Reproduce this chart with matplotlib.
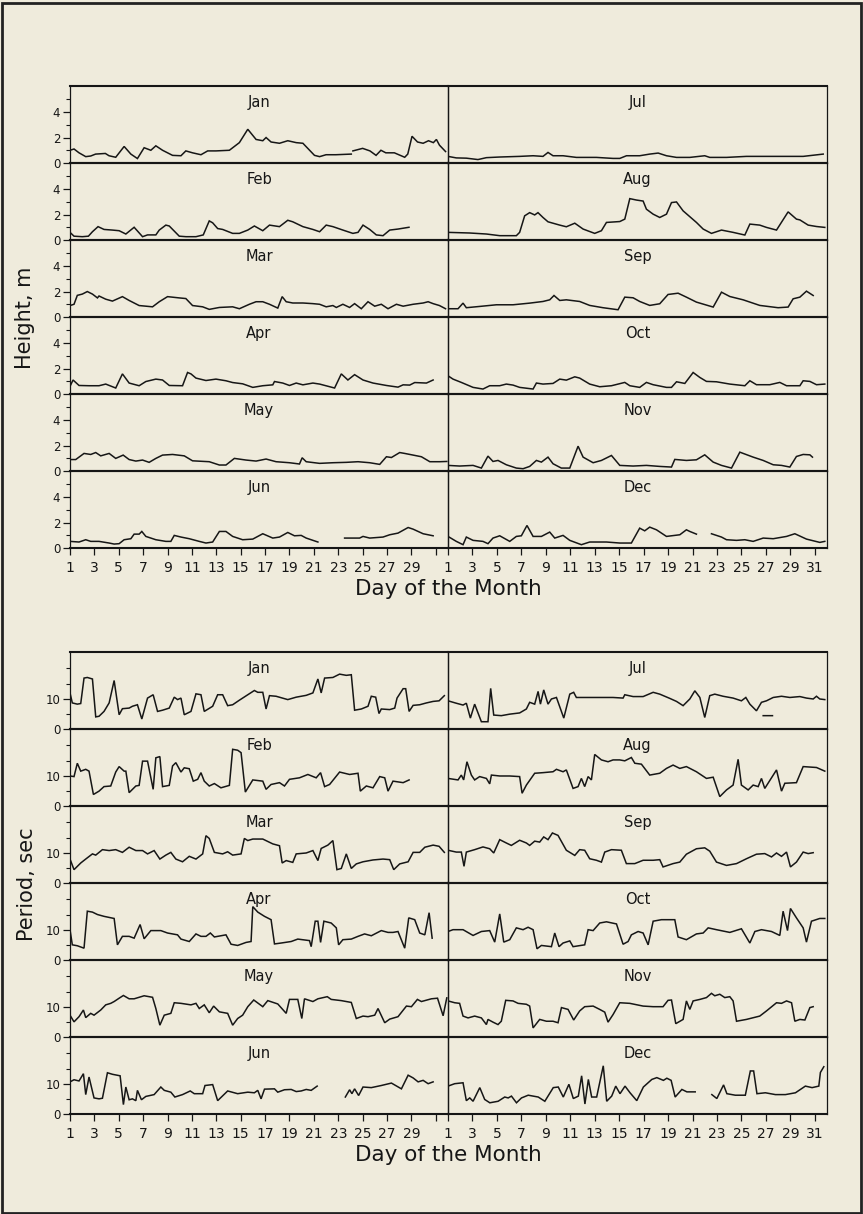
import numpy as np
import matplotlib.pyplot as plt
from matplotlib.patches import Rectangle

nan = np.nan

MONTHS = ["Jan", "Feb", "Mar", "Apr", "May", "Jun",
          "Jul", "Aug", "Sep", "Oct", "Nov", "Dec"]

# ---- wave height (m), (day, value) ----
H_JAN = [(1, 1.0), (1.33, 1.1), (1.74, 0.8), (2.29, 0.5), (2.7, 0.55), (3.1, 0.7), (3.9, 0.75), (4.2, 0.57),
         (4.75, 0.45), (5.44, 1.3), (5.99, 0.7), (6.53, 0.35), (7.08, 1.2), (7.63, 1.0), (8.04, 1.35), (8.59, 1.0),
         (9.41, 0.6), (10.1, 0.57), (10.5, 0.95), (11.05, 0.8), (11.74, 0.65), (12.29, 0.95), (12.97, 0.95),
         (14.07, 1.0), (14.89, 1.6), (15.58, 2.65), (16.26, 1.85), (16.81, 1.75), (17.08, 2.0), (17.49, 1.65),
         (18.18, 1.55), (18.86, 1.75), (19.55, 1.6), (20.1, 1.55), (21.05, 0.6), (21.47, 0.5), (22.0, 0.65),
         (22.8, 0.65), (24.07, 0.7), (24.13, nan), (24.2, 0.95), (25.0, 1.15), (25.6, 0.95), (26.1, 0.6),
         (26.5, 1.0), (26.9, 0.8), (27.6, 0.8), (28.45, 0.45), (28.7, 0.7), (29.05, 2.1), (29.5, 1.65),
         (29.96, 1.55), (30.4, 1.75), (30.8, 1.6), (31.05, 1.85), (31.3, 1.4), (31.8, 0.9)]
H_FEB = [(1, 0.6), (1.33, 0.3), (2.01, 0.26), (2.51, 0.3), (2.84, 0.65), (3.3, 1.05), (3.79, 0.83), (4.48, 0.78),
         (5.03, 0.73), (5.58, 0.47), (6.26, 1.0), (6.95, 0.26), (7.36, 0.4), (8.04, 0.4), (8.32, 0.78), (8.86, 1.17),
         (9.14, 1.1), (9.96, 0.3), (10.51, 0.26), (11.33, 0.26), (11.93, 0.4), (12.42, 1.5), (12.7, 1.35),
         (13.11, 0.9), (13.52, 0.83), (14.34, 0.52), (14.89, 0.52), (15.58, 0.78), (16.12, 1.1), (16.81, 0.73),
         (17.36, 1.17), (18.18, 1.05), (18.86, 1.55), (19.27, 1.43), (20.1, 1.05), (20.92, 0.83), (21.47, 0.65),
         (22.01, 1.17), (22.56, 1.05), (23.38, 0.78), (24.2, 0.52), (24.62, 0.6), (25.03, 1.17), (25.58, 0.83),
         (26.12, 0.4), (26.67, 0.34), (27.22, 0.78), (27.9, 0.86), (28.8, 1.0)]
H_MAR = [(1, 0.9), (1.33, 1.0), (1.6, 1.7), (2.01, 1.8), (2.42, 2.0), (2.84, 1.8), (3.25, 1.5), (3.38, 1.65),
         (3.93, 1.4), (4.48, 1.25), (5.3, 1.6), (5.85, 1.3), (6.67, 0.9), (7.77, 0.8), (8.32, 1.2), (9.0, 1.6),
         (9.96, 1.5), (10.5, 1.45), (11.05, 0.9), (11.88, 0.8), (12.42, 0.6), (13.25, 0.75), (14.34, 0.8),
         (14.89, 0.65), (15.71, 1.0), (16.26, 1.2), (16.81, 1.2), (17.36, 1.0), (18.04, 0.7), (18.4, 1.6),
         (18.73, 1.2), (19.27, 1.1), (20.1, 1.1), (20.92, 1.05), (21.47, 1.0), (22.01, 0.8), (22.56, 0.9),
         (22.84, 0.75), (23.38, 1.0), (23.93, 0.75), (24.34, 1.05), (24.89, 0.65), (25.44, 1.2), (25.99, 0.85),
         (26.53, 1.0), (27.08, 0.65), (27.77, 1.0), (28.32, 0.85), (29.14, 1.0), (29.96, 1.1), (30.37, 1.2),
         (30.78, 1.05), (31.3, 0.9), (31.8, 0.65)]
H_APR = [(1, 0.6), (1.25, 1.1), (1.74, 0.67), (2.56, 0.65), (3.38, 0.65), (3.93, 0.78), (4.75, 0.47), (5.3, 1.58),
         (5.85, 0.86), (6.67, 0.65), (7.22, 0.98), (8.04, 1.17), (8.59, 1.1), (9.14, 0.67), (10.23, 0.65),
         (10.64, 1.69), (10.92, 1.58), (11.33, 1.25), (12.15, 1.06), (12.97, 1.17), (13.79, 1.04), (14.34, 0.9),
         (15.16, 0.8), (15.99, 0.52), (16.81, 0.65), (17.63, 0.72), (17.77, 0.98), (18.45, 0.86), (19.0, 0.67),
         (19.55, 0.86), (20.1, 0.72), (20.92, 0.86), (21.47, 0.78), (22.7, 0.47), (23.25, 1.58), (23.79, 1.1),
         (24.34, 1.52), (25.03, 1.1), (25.85, 0.86), (26.95, 0.67), (27.9, 0.54), (28.32, 0.72), (28.86, 0.7),
         (29.27, 0.9), (30.23, 0.86), (30.78, 1.1)]
H_MAY = [(1, 0.9), (1.47, 0.9), (2.15, 1.38), (2.7, 1.3), (3.11, 1.45), (3.52, 1.19), (4.21, 1.38), (4.75, 0.99),
         (5.36, 1.25), (5.85, 0.9), (6.4, 0.78), (6.95, 0.86), (7.49, 0.68), (8.04, 0.99), (8.59, 1.25), (9.41, 1.3),
         (10.37, 1.19), (11.05, 0.8), (12.42, 0.73), (13.25, 0.47), (13.79, 0.47), (14.48, 0.99), (15.44, 0.86),
         (16.26, 0.78), (17.08, 0.94), (17.9, 0.73), (19.0, 0.65), (19.82, 0.55), (20.04, 1.04), (20.37, 0.73),
         (21.47, 0.6), (22.56, 0.65), (23.66, 0.68), (24.62, 0.73), (25.58, 0.65), (26.4, 0.52), (26.95, 1.12),
         (27.36, 1.06), (28.04, 1.45), (28.45, 1.38), (29.14, 1.25), (29.82, 1.12), (30.51, 0.73), (31.33, 0.73),
         (31.9, 0.75)]
H_JUN = [(1, 0.52), (1.74, 0.47), (2.29, 0.65), (2.7, 0.52), (3.38, 0.52), (4.21, 0.39), (4.62, 0.31), (5.03, 0.34),
         (5.44, 0.65), (5.99, 0.73), (6.26, 1.09), (6.67, 1.09), (6.89, 1.3), (7.22, 0.91), (8.04, 0.65), (8.86, 0.52),
         (9.27, 0.52), (9.55, 0.99), (10.1, 0.86), (10.78, 0.73), (11.6, 0.52), (12.15, 0.39), (12.7, 0.47),
         (13.25, 1.3), (13.79, 1.3), (14.34, 0.91), (15.16, 0.65), (15.99, 0.7), (16.81, 1.12), (17.63, 0.78),
         (18.18, 0.86), (18.86, 1.22), (19.41, 0.96), (19.96, 0.99), (20.37, 0.78), (21.33, 0.47), (22.4, nan),
         (23.52, 0.78), (24.75, 0.78), (25.03, 0.91), (25.58, 0.78), (26.67, 0.86), (27.22, 1.04), (27.9, 1.17),
         (28.73, 1.61), (29.14, 1.48), (29.96, 1.12), (30.78, 0.96)]
H_JUL = [(1, 0.52), (1.68, 0.4), (2.5, 0.38), (3.45, 0.27), (4.14, 0.42), (5.23, 0.47), (6.86, 0.52), (7.96, 0.57),
         (8.77, 0.52), (9.18, 0.83), (9.59, 0.57), (10.41, 0.57), (11.5, 0.44), (13.14, 0.44), (14.5, 0.36),
         (15.05, 0.36), (15.6, 0.57), (16.68, 0.57), (17.5, 0.7), (18.19, 0.78), (18.87, 0.57), (19.69, 0.44),
         (20.78, 0.44), (22.0, 0.57), (22.41, 0.44), (23.78, 0.44), (25.41, 0.52), (27.05, 0.52), (28.69, 0.52),
         (30.05, 0.52), (31.69, 0.7)]
H_AUG = [(1, 0.6), (2.77, 0.55), (4.14, 0.47), (5.23, 0.34), (6.59, 0.34), (6.86, 0.6), (7.27, 1.9), (7.68, 2.15),
         (8.09, 1.97), (8.36, 2.15), (8.77, 1.77), (9.18, 1.43), (10.14, 1.17), (10.68, 1.04), (11.37, 1.32),
         (12.05, 0.86), (13.0, 0.52), (13.55, 0.73), (13.96, 1.38), (15.05, 1.45), (15.46, 1.64), (15.87, 3.25),
         (16.41, 3.14), (16.96, 3.06), (17.23, 2.42), (17.78, 2.03), (18.32, 1.77), (18.87, 2.03), (19.28, 2.94),
         (19.69, 2.99), (20.23, 2.29), (21.32, 1.38), (21.87, 0.86), (22.55, 0.52), (23.37, 0.78), (24.32, 0.6),
         (25.28, 0.39), (25.69, 1.25), (26.5, 1.17), (27.05, 0.99), (27.87, 0.78), (28.82, 2.21), (29.5, 1.64),
         (29.78, 1.58), (30.46, 1.17), (31.14, 1.06), (31.82, 0.99)]
H_SEP = [(1, 0.65), (1.82, 0.65), (2.23, 1.09), (2.5, 0.73), (3.59, 0.83), (4.96, 0.96), (6.32, 0.96), (7.68, 1.09),
         (8.77, 1.22), (9.32, 1.35), (9.67, 1.69), (10.14, 1.3), (10.68, 1.35), (11.77, 1.22), (12.59, 0.91),
         (13.68, 0.73), (14.91, 0.57), (15.46, 1.56), (16.14, 1.51), (16.68, 1.22), (17.5, 0.91), (18.32, 1.04),
         (19.0, 1.77), (19.82, 1.87), (20.5, 1.56), (21.32, 1.17), (22.69, 0.78), (23.37, 1.95), (24.05, 1.61),
         (25.14, 1.35), (26.5, 0.91), (28.0, 0.73), (28.82, 0.78), (29.23, 1.43), (29.78, 1.56), (30.32, 2.03),
         (30.87, 1.69)]
H_OCT = [(1, 1.43), (1.41, 1.17), (2.09, 0.91), (3.05, 0.52), (3.86, 0.39), (4.41, 0.65), (5.23, 0.65), (5.77, 0.78),
         (6.32, 0.7), (6.86, 0.52), (7.96, 0.39), (8.23, 0.86), (8.77, 0.78), (9.59, 0.83), (10.14, 1.17),
         (10.68, 1.09), (11.37, 1.35), (11.77, 1.25), (12.59, 0.78), (13.41, 0.57), (14.37, 0.65), (15.46, 0.91),
         (15.87, 0.65), (16.68, 0.52), (17.23, 0.91), (17.78, 0.73), (18.87, 0.52), (19.28, 0.52), (19.69, 0.96),
         (20.37, 0.83), (21.05, 1.69), (21.6, 1.3), (22.14, 0.99), (22.96, 0.96), (24.05, 0.78), (25.28, 0.65),
         (25.69, 1.04), (26.23, 0.73), (27.32, 0.73), (28.14, 0.91), (28.69, 0.65), (29.78, 0.65), (30.05, 1.04),
         (30.6, 0.99), (31.14, 0.73), (31.82, 0.78)]
H_NOV = [(1, 0.44), (1.95, 0.39), (3.05, 0.44), (3.73, 0.23), (4.27, 1.17), (4.68, 0.75), (5.09, 0.83), (5.77, 0.49),
         (6.59, 0.23), (7.14, 0.18), (7.68, 0.36), (8.23, 0.83), (8.64, 0.7), (9.18, 1.09), (9.59, 0.57),
         (10.27, 0.23), (10.96, 0.23), (11.64, 1.95), (12.05, 1.09), (12.87, 0.65), (13.55, 0.83), (14.37, 1.22),
         (15.05, 0.44), (16.14, 0.39), (17.23, 0.44), (18.32, 0.36), (19.28, 0.31), (19.55, 0.91), (20.5, 0.83),
         (21.32, 0.88), (22.0, 1.27), (22.69, 0.7), (23.37, 0.44), (24.19, 0.23), (24.87, 1.48), (25.96, 1.09),
         (26.78, 0.83), (27.6, 0.49), (28.28, 0.44), (28.96, 0.31), (29.5, 1.14), (30.05, 1.3), (30.6, 1.27),
         (30.81, 1.09)]
H_DEC = [(1, 0.91), (1.68, 0.52), (2.23, 0.26), (2.5, 0.86), (3.05, 0.6), (3.86, 0.52), (4.27, 0.34), (4.68, 0.78),
         (5.23, 0.96), (6.05, 0.52), (6.59, 0.91), (7.0, 0.96), (7.46, 1.77), (7.96, 0.91), (8.64, 0.91), (9.32, 1.25),
         (9.73, 0.78), (10.41, 0.99), (10.96, 0.6), (11.91, 0.26), (12.59, 0.47), (13.96, 0.47), (15.05, 0.39),
         (16.0, 0.39), (16.68, 1.56), (17.09, 1.35), (17.5, 1.64), (18.05, 1.43), (18.87, 0.91), (19.96, 1.04),
         (20.5, 1.43), (20.78, 1.3), (21.32, 1.09), (21.9, nan), (22.55, 1.12), (23.37, 0.86), (23.78, 0.65),
         (24.6, 0.6), (25.28, 0.65), (25.96, 0.52), (26.78, 0.78), (27.6, 0.73), (28.69, 0.91), (29.37, 1.12),
         (30.32, 0.7), (31.41, 0.44), (31.82, 0.52)]

# ---- wave period (sec) ----
P_JAN = [(1, 11.9), (1.19, 8.6), (1.6, 8.2), (1.88, 8.4), (2.15, 16.8), (2.42, 17.0), (2.84, 16.5), (3.11, 4.0),
         (3.38, 4.2), (3.79, 5.8), (4.21, 8.6), (4.62, 16.0), (5.03, 4.7), (5.3, 6.7), (5.85, 6.9), (6.12, 7.5),
         (6.53, 8.0), (6.89, 3.3), (7.36, 10.2), (7.82, 11.3), (8.18, 5.8), (8.59, 6.2), (9.14, 6.9), (9.55, 10.5),
         (9.82, 9.7), (10.1, 10.2), (10.37, 4.7), (10.92, 5.8), (11.33, 11.6), (11.74, 11.3), (12.01, 5.8),
         (12.7, 7.5), (13.11, 11.3), (13.52, 11.3), (13.93, 7.7), (14.34, 8.0), (14.89, 9.5), (15.58, 11.3),
         (16.12, 12.7), (16.4, 12.1), (16.81, 12.1), (17.08, 6.6), (17.36, 11.0), (17.9, 10.8), (18.86, 9.7),
         (19.55, 10.5), (20.37, 11.1), (20.92, 11.9), (21.33, 16.5), (21.6, 11.9), (21.88, 16.8), (22.56, 17.0),
         (23.11, 18.1), (23.66, 17.7), (24.07, 17.9), (24.34, 6.2), (24.89, 6.6), (25.44, 7.5), (25.71, 10.8),
         (26.07, 10.5), (26.34, 5.1), (26.53, 6.6), (27.22, 6.4), (27.63, 6.9), (27.82, 10.2), (28.32, 13.3),
         (28.53, 13.3), (28.81, 5.8), (29.14, 7.8), (29.68, 8.0), (30.23, 8.6), (30.78, 9.1), (31.27, 9.3),
         (31.7, 11.0)]
P_FEB = [(1, 9.9), (1.33, 9.7), (1.6, 14.1), (1.88, 11.5), (2.29, 12.1), (2.56, 11.5), (2.92, 3.8), (3.38, 4.9),
         (3.79, 6.4), (4.34, 6.6), (4.75, 11.2), (5.03, 13.0), (5.44, 11.5), (5.58, 11.5), (5.85, 4.4), (6.4, 6.6),
         (6.67, 6.8), (6.95, 14.8), (7.36, 14.8), (7.82, 5.5), (8.04, 15.9), (8.37, 16.3), (8.59, 6.4), (9.14, 6.8),
         (9.41, 13.2), (9.68, 14.3), (10.1, 11.2), (10.37, 12.6), (10.78, 12.3), (11.11, 8.2), (11.47, 8.8),
         (11.74, 11.0), (12.01, 8.2), (12.42, 6.6), (12.84, 7.4), (13.38, 6.0), (14.07, 6.8), (14.34, 18.7),
         (14.75, 18.4), (15.03, 17.6), (15.38, 4.6), (15.99, 8.6), (16.81, 8.2), (17.08, 5.5), (17.49, 7.1),
         (18.18, 7.7), (18.59, 6.6), (19.0, 8.8), (19.82, 9.3), (20.51, 10.4), (21.19, 9.3), (21.55, 11.0),
         (21.88, 6.4), (22.29, 7.1), (23.11, 11.2), (23.93, 10.4), (24.62, 10.8), (24.81, 4.9), (25.3, 6.6),
         (25.85, 6.0), (26.4, 9.7), (26.81, 9.3), (27.08, 4.9), (27.49, 8.2), (28.32, 7.7), (28.81, 8.6)]
P_MAR = [(1, 7.9), (1.33, 4.4), (1.88, 6.6), (2.29, 7.9), (2.84, 9.6), (3.11, 9.2), (3.66, 11.0), (4.21, 10.7),
         (4.75, 11.0), (5.3, 10.1), (5.85, 11.8), (6.4, 10.7), (6.95, 10.7), (7.36, 9.6), (7.9, 10.7), (8.37, 7.9),
         (8.86, 9.2), (9.27, 10.1), (9.68, 7.9), (10.23, 7.0), (10.78, 8.8), (11.33, 7.9), (11.88, 9.6),
         (12.15, 15.6), (12.42, 14.7), (12.84, 10.1), (13.52, 9.6), (13.93, 10.3), (14.34, 9.2), (15.03, 9.6),
         (15.3, 14.7), (15.58, 14.0), (15.99, 14.5), (16.81, 14.5), (17.63, 12.9), (18.18, 12.3), (18.4, 6.6),
         (18.73, 7.4), (19.27, 6.8), (19.55, 9.6), (20.37, 9.9), (20.92, 10.7), (21.33, 7.4), (21.6, 11.4),
         (22.15, 12.5), (22.56, 14.0), (22.89, 4.4), (23.25, 4.8), (23.66, 9.6), (24.07, 4.8), (24.48, 6.3),
         (25.03, 7.0), (25.85, 7.6), (26.67, 7.9), (27.22, 7.7), (27.55, 4.4), (28.04, 6.3), (28.73, 7.0),
         (29.14, 10.1), (29.68, 10.1), (30.1, 11.8), (30.78, 12.5), (31.27, 12.1), (31.7, 10.1)]
P_APR = [(1, 10.0), (1.19, 5.0), (1.6, 4.7), (2.15, 3.9), (2.42, 16.1), (2.84, 15.8), (3.25, 15.0), (3.79, 14.4),
         (4.62, 13.7), (4.89, 5.0), (5.3, 7.8), (5.85, 7.8), (6.26, 7.2), (6.75, 11.7), (7.08, 7.0), (7.63, 9.7),
         (8.45, 9.7), (9.0, 8.9), (9.82, 8.3), (10.1, 6.9), (10.78, 6.1), (11.33, 8.6), (11.74, 7.8), (12.15, 7.8),
         (12.51, 8.9), (12.84, 7.6), (13.79, 8.3), (14.21, 5.2), (14.75, 4.8), (15.44, 5.8), (15.85, 6.1),
         (15.99, 17.6), (16.4, 15.8), (16.95, 14.4), (17.49, 13.3), (17.77, 5.3), (18.32, 5.6), (19.14, 6.1),
         (19.68, 6.9), (20.64, 6.4), (20.78, 4.4), (21.11, 12.8), (21.33, 12.8), (21.55, 5.8), (21.82, 12.8),
         (22.42, 12.2), (22.84, 10.6), (23.03, 5.0), (23.38, 6.7), (24.07, 6.9), (24.62, 7.8), (25.16, 8.6),
         (25.71, 8.0), (26.53, 9.7), (27.08, 9.1), (27.49, 9.1), (27.9, 9.4), (28.45, 3.9), (28.78, 13.9),
         (29.27, 13.3), (29.68, 8.9), (30.1, 8.3), (30.45, 15.6), (30.7, 7.2)]
P_MAY = [(1, 7.2), (1.33, 5.0), (1.74, 6.7), (2.1, 8.9), (2.29, 6.4), (2.7, 7.8), (2.97, 7.2), (3.52, 8.9),
         (3.93, 10.6), (4.34, 11.1), (4.62, 11.7), (5.03, 12.8), (5.38, 13.7), (5.85, 12.6), (6.26, 12.6),
         (7.08, 13.6), (7.77, 13.1), (8.04, 9.4), (8.37, 3.9), (8.73, 7.2), (9.27, 7.8), (9.55, 11.3), (10.1, 11.1),
         (10.92, 10.6), (11.33, 11.1), (11.6, 9.4), (12.01, 10.6), (12.42, 8.0), (12.78, 10.2), (13.25, 8.3),
         (13.93, 7.8), (14.34, 3.9), (14.75, 6.1), (15.16, 7.2), (15.58, 10.0), (16.07, 12.2), (16.81, 10.0),
         (17.22, 12.0), (18.04, 10.9), (18.73, 7.8), (19.0, 12.4), (19.68, 12.4), (20.01, 6.1), (20.23, 12.6),
         (20.92, 11.7), (21.33, 12.6), (22.1, 13.3), (22.42, 12.4), (23.25, 12.0), (24.07, 11.4), (24.48, 6.1),
         (25.03, 6.9), (25.44, 6.7), (25.99, 7.2), (26.26, 9.4), (26.81, 4.7), (27.22, 5.9), (27.9, 6.7),
         (28.59, 10.2), (29.0, 10.0), (29.49, 12.4), (29.82, 11.7), (30.64, 12.6), (31.14, 12.8), (31.6, 7.0),
         (31.9, 12.9)]
P_JUN = [(1, 10.6), (1.33, 11.3), (1.74, 10.9), (2.1, 13.3), (2.29, 6.4), (2.56, 12.2), (2.97, 5.3), (3.38, 5.0),
         (3.66, 5.2), (4.07, 13.6), (4.48, 13.1), (5.11, 12.6), (5.38, 3.1), (5.58, 8.9), (5.85, 4.7), (6.12, 5.0),
         (6.4, 4.4), (6.53, 7.8), (6.86, 4.7), (7.22, 5.8), (7.9, 6.4), (8.45, 8.9), (8.73, 7.8), (9.27, 7.2),
         (9.6, 5.6), (10.23, 6.4), (10.86, 7.6), (11.19, 6.7), (11.88, 6.7), (12.07, 9.4), (12.7, 9.7), (13.11, 4.4),
         (13.93, 7.6), (14.75, 6.7), (15.58, 7.2), (16.12, 7.0), (16.4, 7.8), (16.67, 5.0), (16.95, 8.2),
         (17.77, 8.3), (18.04, 7.2), (18.59, 8.0), (19.14, 8.1), (19.55, 7.4), (19.96, 7.6), (20.37, 8.1),
         (20.78, 7.8), (21.27, 9.2), (22.4, nan), (23.58, 5.6), (23.93, 8.0), (24.12, 6.7), (24.34, 8.3),
         (24.67, 6.1), (25.03, 8.9), (25.71, 8.7), (26.53, 9.4), (27.36, 10.2), (28.18, 8.3), (28.73, 12.8),
         (29.14, 11.9), (29.55, 10.6), (29.96, 11.1), (30.37, 10.0), (30.78, 10.6)]
P_JUL = [(1, 9.3), (1.68, 8.5), (2.23, 7.9), (2.5, 8.5), (2.83, 3.6), (3.18, 8.2), (3.73, 2.4), (4.27, 2.4),
         (4.49, 13.4), (4.74, 4.6), (5.36, 4.4), (6.05, 4.9), (6.86, 5.3), (7.41, 6.6), (7.68, 8.8), (8.09, 8.2),
         (8.37, 12.4), (8.56, 8.2), (8.83, 12.9), (9.18, 8.2), (9.46, 9.9), (9.87, 10.4), (10.47, 3.6),
         (10.96, 11.5), (11.28, 12.1), (11.5, 10.4), (13.14, 10.4), (14.5, 10.4), (15.32, 10.2), (15.46, 11.3),
         (16.14, 10.7), (16.96, 10.7), (17.78, 12.1), (18.32, 11.5), (19.14, 10.1), (19.69, 9.1), (20.23, 7.7),
         (20.78, 9.9), (21.19, 12.6), (21.6, 10.4), (22.0, 3.8), (22.41, 11.0), (22.82, 11.5), (23.5, 10.8),
         (24.32, 10.2), (25.0, 9.3), (25.36, 10.4), (25.69, 8.2), (26.23, 6.0), (26.64, 8.8), (27.05, 9.3),
         (27.6, 10.4), (28.28, 10.8), (28.96, 10.4), (29.78, 10.7), (30.32, 10.2), (30.87, 9.9), (31.14, 10.8),
         (31.41, 9.9), (31.82, 9.7), (31.9, nan), (26.78, 4.4), (27.54, 4.4)]
P_AUG = [(1, 9.1), (1.82, 8.6), (2.09, 10.2), (2.28, 8.6), (2.55, 14.6), (2.91, 10.2), (3.18, 8.6), (3.59, 9.7),
         (4.14, 9.1), (4.41, 7.3), (4.55, 10.2), (5.23, 9.9), (6.05, 9.9), (6.86, 9.7), (7.06, 4.2), (7.41, 6.9),
         (8.09, 10.8), (8.77, 11.0), (9.59, 11.3), (9.87, 12.1), (10.41, 11.3), (10.68, 11.9), (11.23, 5.8),
         (11.64, 6.4), (11.91, 9.1), (12.18, 6.4), (12.46, 9.7), (12.73, 8.6), (13.0, 17.0), (13.55, 15.2),
         (14.09, 14.6), (14.5, 15.2), (15.05, 15.2), (15.46, 14.9), (16.0, 16.0), (16.28, 14.1), (16.82, 13.8),
         (17.5, 10.2), (18.32, 10.8), (18.87, 12.4), (19.41, 13.5), (19.96, 12.4), (20.5, 13.0), (21.32, 11.3),
         (22.14, 9.1), (22.69, 9.5), (23.23, 3.1), (23.78, 5.3), (24.32, 6.9), (24.73, 15.4), (25.0, 6.9),
         (25.55, 5.3), (25.96, 6.9), (26.37, 6.4), (26.64, 9.1), (26.91, 5.8), (27.87, 11.9), (28.28, 4.9),
         (28.55, 7.5), (29.5, 7.7), (30.05, 13.0), (31.14, 12.7), (31.82, 11.5)]
P_SEP = [(1, 10.8), (1.68, 10.2), (2.09, 10.2), (2.31, 5.5), (2.5, 10.2), (3.18, 11.0), (3.86, 11.9), (4.41, 11.3),
         (4.74, 9.9), (5.23, 14.3), (5.77, 13.2), (6.18, 12.4), (6.86, 14.1), (7.41, 13.2), (7.68, 12.4),
         (8.09, 13.8), (8.5, 13.5), (8.83, 15.2), (9.18, 14.3), (9.54, 16.5), (10.0, 15.7), (10.68, 10.8),
         (11.37, 9.1), (11.77, 11.0), (12.18, 10.8), (12.59, 8.0), (13.14, 7.5), (13.55, 6.9), (13.82, 10.2),
         (14.37, 11.0), (15.18, 10.8), (15.59, 6.4), (16.28, 6.4), (16.96, 7.5), (17.78, 7.5), (18.32, 7.7),
         (18.59, 5.3), (19.41, 6.4), (19.96, 6.9), (20.5, 9.5), (21.32, 11.3), (22.0, 11.6), (22.41, 10.5),
         (22.96, 6.9), (23.78, 5.8), (24.6, 6.4), (25.41, 8.0), (26.23, 9.5), (26.91, 9.7), (27.46, 8.6),
         (27.87, 9.9), (28.28, 8.8), (28.69, 10.2), (29.01, 5.3), (29.5, 6.9), (30.05, 10.2), (30.46, 9.7),
         (30.87, 10.0)]
P_OCT = [(1, 9.4), (1.41, 10.0), (2.23, 10.0), (3.05, 8.1), (3.73, 9.4), (4.41, 9.7), (4.82, 5.9), (5.23, 15.2),
         (5.56, 5.9), (6.05, 6.7), (6.59, 10.6), (7.14, 10.0), (7.55, 10.8), (7.96, 10.0), (8.28, 3.7), (8.64, 4.8),
         (9.46, 4.4), (9.73, 8.9), (10.08, 4.4), (10.41, 5.6), (10.96, 6.3), (11.23, 4.4), (12.18, 5.0),
         (12.46, 10.0), (12.87, 9.7), (13.41, 12.2), (13.96, 12.6), (14.78, 11.9), (15.32, 5.2), (15.73, 6.1),
         (16.0, 8.3), (16.55, 9.4), (16.96, 8.9), (17.37, 5.0), (17.78, 12.8), (18.46, 13.3), (19.55, 13.3),
         (19.82, 7.6), (20.5, 6.7), (21.32, 8.6), (21.87, 8.9), (22.28, 10.6), (22.96, 10.0), (24.05, 9.1),
         (25.0, 10.3), (25.69, 5.6), (26.1, 9.4), (26.64, 10.0), (27.46, 9.4), (28.14, 8.1), (28.41, 16.1),
         (28.77, 9.7), (29.01, 17.0), (29.5, 13.9), (30.05, 10.6), (30.32, 5.9), (30.73, 12.8), (31.41, 13.7),
         (31.82, 13.7)]
P_NOV = [(1, 11.9), (1.55, 11.3), (1.95, 11.1), (2.23, 6.9), (2.64, 6.3), (3.18, 6.9), (3.73, 6.3), (4.14, 4.1),
         (4.27, 5.8), (4.68, 4.9), (5.09, 4.1), (5.36, 5.2), (5.72, 12.1), (6.32, 11.9), (6.73, 11.1), (7.41, 10.8),
         (7.68, 10.2), (7.96, 3.0), (8.5, 5.8), (9.05, 5.2), (9.59, 5.2), (10.0, 4.7), (10.28, 9.7), (10.82, 9.1),
         (11.28, 5.6), (11.77, 8.6), (12.18, 10.0), (12.87, 10.2), (13.41, 9.1), (13.82, 8.2), (14.09, 4.9),
         (14.5, 7.4), (15.05, 11.3), (15.87, 11.1), (16.96, 10.2), (17.78, 10.0), (18.59, 10.0), (19.0, 12.1),
         (19.28, 12.2), (19.63, 4.4), (20.23, 5.8), (20.5, 11.9), (20.78, 9.1), (21.05, 11.9), (21.6, 12.4),
         (22.14, 13.0), (22.55, 14.4), (22.82, 13.6), (23.23, 14.1), (23.64, 13.0), (24.05, 13.3), (24.32, 11.9),
         (24.6, 5.2), (25.41, 5.8), (26.5, 6.9), (27.05, 8.6), (27.87, 11.3), (28.28, 11.1), (28.69, 11.9),
         (29.1, 11.3), (29.37, 5.2), (29.78, 5.8), (30.19, 5.6), (30.6, 9.7), (30.87, 10.0)]
P_DEC = [(1, 9.2), (1.55, 10.0), (2.23, 10.3), (2.5, 4.4), (2.78, 5.3), (3.05, 4.2), (3.6, 8.7), (4.0, 4.8),
         (4.42, 3.7), (5.1, 4.2), (5.64, 5.6), (5.92, 5.3), (6.19, 5.9), (6.6, 3.7), (7.01, 5.3), (7.56, 6.2),
         (8.38, 5.6), (8.92, 4.2), (9.61, 8.7), (10.02, 8.9), (10.43, 5.6), (10.89, 9.8), (11.25, 5.1), (11.66, 5.9),
         (11.93, 12.6), (12.2, 3.3), (12.48, 11.4), (12.75, 5.6), (13.16, 5.6), (13.7, 15.9), (13.98, 4.2),
         (14.39, 5.9), (14.72, 9.2), (15.07, 6.7), (15.48, 9.2), (15.89, 7.0), (16.44, 4.4), (16.98, 8.9),
         (17.67, 11.4), (18.08, 12.0), (18.62, 11.1), (18.9, 11.8), (19.25, 11.1), (19.58, 5.6), (20.13, 8.1),
         (20.54, 7.3), (21.22, 7.3), (21.9, nan), (22.58, 6.4), (22.99, 5.1), (23.54, 9.6), (23.81, 6.7),
         (24.5, 6.2), (25.32, 6.2), (25.73, 14.2), (26.0, 14.2), (26.27, 6.7), (26.96, 7.0), (27.78, 6.4),
         (28.6, 6.4), (29.42, 7.0), (30.23, 9.2), (30.78, 8.7), (31.33, 9.2), (31.46, 13.7), (31.74, 15.6)]

HEIGHT = [H_JAN, H_FEB, H_MAR, H_APR, H_MAY, H_JUN, H_JUL, H_AUG, H_SEP, H_OCT, H_NOV, H_DEC]
PERIOD = [P_JAN, P_FEB, P_MAR, P_APR, P_MAY, P_JUN, P_JUL, P_AUG, P_SEP, P_OCT, P_NOV, P_DEC]

BG = "#efebdc"
INK = "#161616"
W, H = 863, 1214

fig = plt.figure(figsize=(W / 100, H / 100), dpi=100)
fig.patch.set_facecolor(BG)


def add_ax(x0, y0, w, h):
    # pixel box (top-left origin) -> figure fraction
    return fig.add_axes([x0 / W, 1 - (y0 + h) / H, w / W, h / H])


COLS = [(70, 378), (448, 379)]
ROW_H = 77


def draw_block(top, series, ylim, major, labels, minor, ylabel, ylabel_xy, xlabel_y):
    for c in range(2):
        x0, w = COLS[c]
        for i in range(6):
            m = c * 6 + i
            ax = add_ax(x0, top + i * ROW_H, w, ROW_H)
            ax.set_facecolor("none")
            days, vals = zip(*series[m])
            ax.plot(days, vals, color=INK, lw=1.1, solid_joinstyle="miter")
            ax.set_xlim(1, 32)
            ax.set_ylim(*ylim)
            ax.text(0.5, 0.79, MONTHS[m], transform=ax.transAxes, ha="center", va="center",
                    fontsize=10.5, color=INK)
            for s in ("top", "bottom"):
                ax.spines[s].set_linewidth(1.5)
                ax.spines[s].set_color(INK)
            for s in ("left", "right"):
                ax.spines[s].set_linewidth(0.9)
                ax.spines[s].set_color(INK)
            if c == 0:
                ax.set_yticks(major)
                ax.set_yticklabels(labels)
                ax.set_yticks(minor, minor=True)
                ax.tick_params(axis="y", which="major", direction="out", length=5, width=0.9,
                               labelsize=8.5, pad=2, colors=INK)
                ax.tick_params(axis="y", which="minor", direction="out", length=3, width=0.8, colors=INK)
            else:
                ax.set_yticks([])
            if i == 5:
                ticks = list(range(1, 32, 2))
                ax.set_xticks(ticks)
                if c == 0:
                    ax.set_xticklabels([str(t) if t < 31 else "" for t in ticks])
                else:
                    ax.set_xticklabels([str(t) for t in ticks])
                ax.tick_params(axis="x", direction="out", length=5, width=0.9, labelsize=10,
                               pad=4, colors=INK)
            else:
                ax.set_xticks([])
    fig.text(ylabel_xy[0] / W, 1 - ylabel_xy[1] / H, ylabel, rotation=90, ha="center", va="center",
             fontsize=15, color=INK)
    fig.text(448 / W, 1 - xlabel_y / H, "Day of the Month", ha="center", va="center",
             fontsize=15.5, color=INK)


draw_block(86, HEIGHT, (0, 6.05), [0, 2, 4], ["0", "2", "4"], [1, 3, 5],
           "Height, m", (25, 318), 589)
draw_block(652, PERIOD, (0, 25.4), [0, 10], ["0", "10"], [5, 15, 20],
           "Period, sec", (27, 884), 1155)

fig.add_artist(Rectangle((2 / W, 1 - 1213 / H), 859 / W, 1210 / H, transform=fig.transFigure,
                         fill=False, lw=2, ec="#222222"))

fig.savefig("out.png", dpi=100, facecolor=BG)
